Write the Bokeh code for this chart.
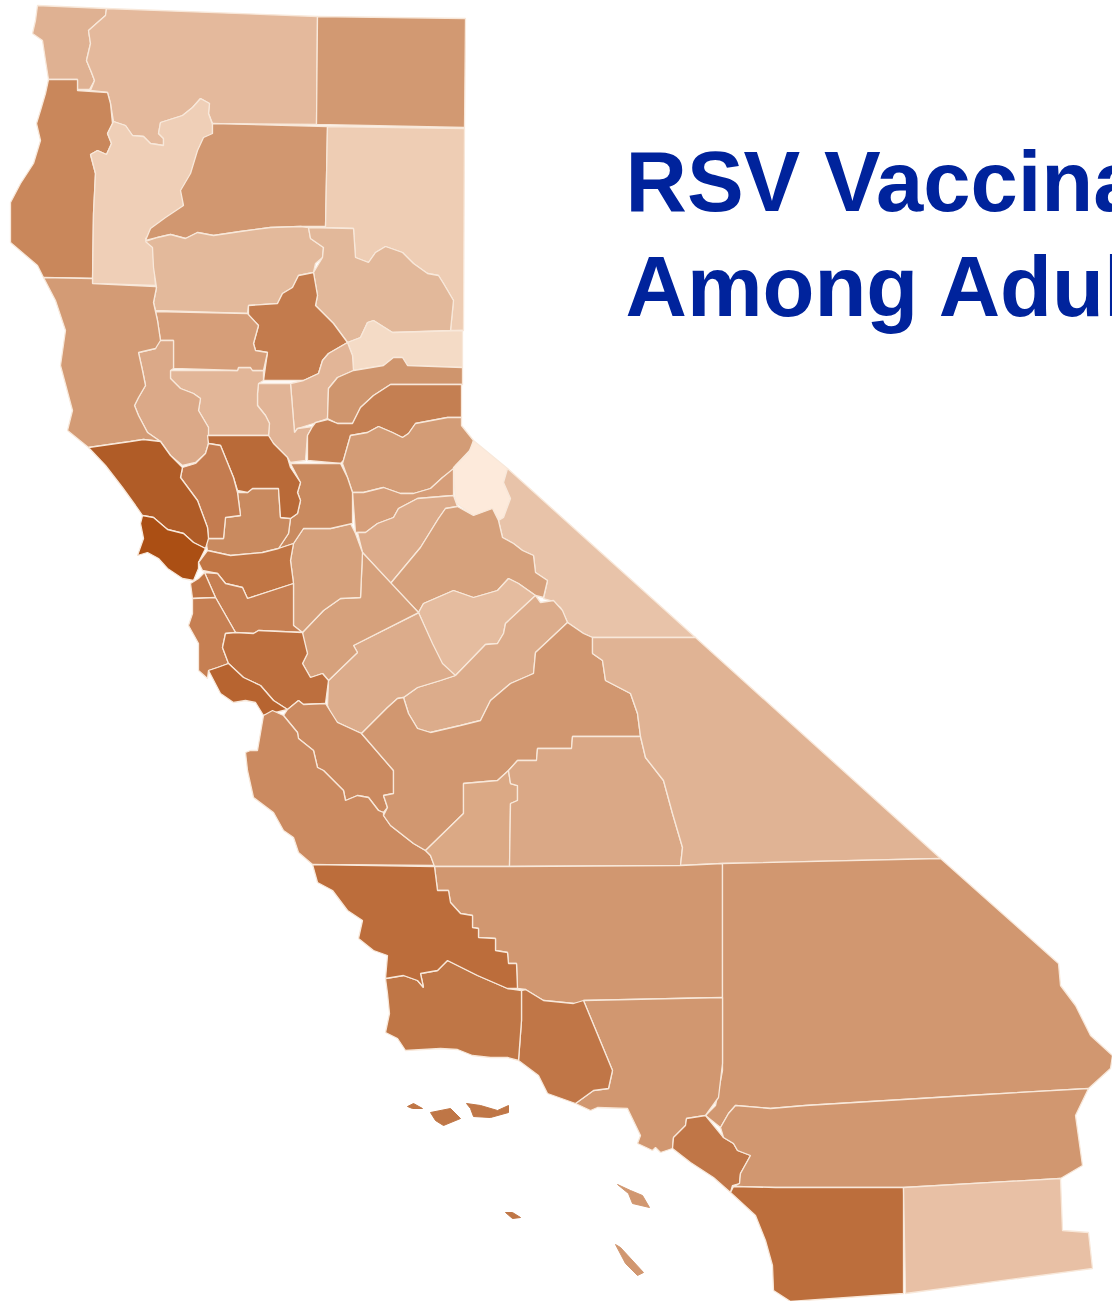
from bokeh.plotting import figure
from bokeh.models import ColumnDataSource, Range1d
from bokeh.core.properties import value
from bokeh.embed import file_html
from bokeh.resources import INLINE

title_lines = ["RSV Vaccination", "Among Adults"]

outlines = {
 "Del Norte": [(37,5),(106,8),(105,15),(97,22),(88,30),(90,43),(86,60),(91,72),(94,80),(89,89),(77,89),(77,79),(48,79),(45,60),(42,40),(32,33),(35,20)],
 "Siskiyou": [(106,8),(317,16),(316,124),(212,123),(208,113),(209,103),(200,98),(192,107),(182,115),(160,122),(158,133),(163,138),(163,145),(150,143),(143,136),(132,135),(125,125),(113,121),(110,103),(107,92),(90,90),(94,80),(91,72),(86,60),(90,43),(88,30),(97,22),(105,15)],
 "Modoc": [(317,16),(465,18),(464,127),(316,124)],
 "Humboldt": [(48,79),(77,79),(77,90),(107,92),(110,103),(112,123),(107,133),(111,143),(106,154),(97,150),(90,154),(95,173),(93,213),(92,278),(43,277),(37,265),(10,242),(10,202),(20,183),(33,163),(40,140),(36,123),(40,110),(45,93)],
 "Trinity": [(113,121),(125,125),(132,135),(143,136),(150,143),(163,145),(163,138),(158,133),(160,122),(182,115),(192,107),(200,98),(209,103),(208,113),(212,124),(212,134),(205,138),(200,150),(195,162),(190,175),(181,190),(183,205),(165,220),(145,238),(152,245),(155,285),(92,283),(93,213),(95,173),(90,154),(97,150),(106,154),(111,143),(107,133)],
 "Shasta": [(212,123),(327,126),(325,226),(300,226),(270,227),(240,231),(213,235),(197,232),(185,238),(170,234),(157,237),(145,240),(150,228),(165,217),(183,205),(180,190),(190,173),(197,150),(203,137),(212,133)],
 "Lassen": [(327,126),(464,128),(463,330),(450,330),(453,300),(443,283),(438,275),(427,273),(413,263),(402,252),(385,246),(375,252),(368,262),(355,257),(353,228),(325,227)],
 "Tehama": [(145,241),(157,237),(170,234),(185,238),(197,232),(213,235),(240,231),(270,227),(300,226),(308,227),(310,238),(323,247),(322,257),(315,263),(313,272),(298,275),(292,287),(282,293),(277,303),(248,305),(247,313),(155,310),(153,302),(156,287),(153,267),(152,247)],
 "Plumas": [(308,227),(353,228),(355,257),(368,262),(375,252),(385,246),(402,252),(413,263),(427,273),(438,275),(443,283),(453,300),(450,330),(392,332),(373,320),(367,322),(360,337),(347,342),(333,323),(315,305),(317,295),(313,272),(322,257),(323,247),(310,238)],
 "Butte": [(313,272),(317,295),(315,305),(333,323),(347,342),(328,353),(322,360),(318,373),(303,380),(263,380),(267,352),(255,350),(253,343),(258,325),(248,315),(248,305),(277,303),(282,293),(292,287),(298,275)],
 "Sierra": [(347,342),(360,337),(367,322),(373,320),(392,332),(462,330),(462,367),(407,365),(402,357),(393,357),(383,365),(353,370),(352,355)],
 "Yuba": [(347,342),(352,355),(353,370),(337,377),(328,388),(327,418),(313,423),(297,428),(294,432),(290,383),(303,380),(318,373),(322,360),(328,353)],
 "Sutter": [(258,383),(290,383),(294,432),(297,428),(312,426),(307,435),(305,460),(290,462),(287,457),(273,443),(268,435),(269,423),(265,415),(257,405),(257,393)],
 "Colusa": [(170,370),(237,370),(238,367),(250,367),(252,370),(263,370),(263,380),(258,383),(257,393),(257,405),(265,415),(269,423),(268,435),(207,435),(208,427),(198,410),(200,398),(193,393),(180,388),(170,378)],
 "Glenn": [(155,311),(247,313),(258,325),(253,343),(255,350),(267,352),(263,370),(252,370),(250,367),(238,367),(237,370),(173,368),(173,340),(160,340),(157,320)],
 "Lake": [(158,340),(173,340),(173,368),(170,370),(170,378),(180,388),(193,393),(200,398),(198,410),(208,427),(208,443),(205,453),(195,462),(182,465),(170,455),(160,441),(147,432),(138,415),(134,405),(138,397),(145,385),(142,370),(138,352),(155,348)],
 "Mendocino": [(43,277),(92,278),(92,283),(155,286),(156,287),(153,302),(155,311),(157,320),(160,340),(155,348),(138,352),(142,370),(145,385),(138,397),(134,405),(138,415),(147,432),(160,441),(143,439),(130,441),(88,447),(67,430),(72,410),(60,365),(65,330),(55,300)],
 "Nevada": [(353,370),(383,365),(393,357),(402,357),(407,365),(462,367),(462,384),(390,384),(373,395),(360,407),(352,423),(337,423),(327,418),(328,388),(337,377)],
 "Placer": [(390,384),(461,384),(461,417),(447,417),(415,423),(408,433),(402,437),(392,432),(378,426),(367,432),(350,435),(343,460),(340,463),(307,460),(307,435),(312,426),(315,422),(327,419),(337,423),(352,423),(360,407),(373,395)],
 "El Dorado": [(350,435),(367,432),(378,426),(392,432),(402,437),(408,433),(415,423),(447,417),(461,417),(461,425),(473,440),(472,447),(455,465),(452,470),(442,477),(430,488),(413,493),(400,493),(383,487),(363,492),(352,492),(347,477),(342,463)],
 "Alpine": [(473,440),(507,468),(503,482),(510,498),(503,517),(500,520),(495,515),(492,508),(473,515),(455,502),(453,467),(468,453)],
 "Mono": [(507,468),(695,637),(592,637),(583,633),(567,622),(560,607),(550,600),(543,598),(547,580),(535,572),(533,555),(522,550),(513,543),(502,537),(498,520),(503,517),(510,498),(503,482)],
 "Amador": [(352,492),(363,492),(383,487),(400,493),(413,493),(430,488),(442,477),(453,468),(453,495),(417,498),(398,508),(393,517),(377,523),(365,532),(355,532)],
 "Calaveras": [(357,532),(365,532),(377,523),(393,517),(398,508),(417,498),(453,495),(457,506),(445,508),(438,518),(420,547),(405,565),(390,583),(362,552)],
 "Tuolumne": [(390,583),(405,565),(420,547),(438,518),(445,508),(457,506),(473,515),(492,508),(498,520),(502,537),(513,543),(522,550),(533,555),(535,572),(547,580),(543,597),(535,595),(518,583),(508,578),(497,590),(473,597),(453,590),(423,603),(418,612)],
 "Mariposa": [(418,612),(423,603),(453,590),(473,597),(497,590),(508,578),(518,583),(535,595),(505,623),(503,633),(497,643),(485,644),(455,675),(440,665),(430,640)],
 "Madera": [(455,675),(485,644),(497,643),(503,633),(505,623),(535,595),(540,602),(553,600),(562,610),(567,622),(535,652),(533,673),(510,683),(490,700),(480,720),(460,725),(430,732),(417,728),(408,713),(403,697),(417,687),(440,680)],
 "Merced": [(328,680),(357,652),(353,645),(417,613),(418,612),(432,643),(442,663),(455,675),(440,680),(417,687),(403,697),(397,698),(387,707),(361,733),(333,720),(327,705)],
 "Stanislaus": [(302,632),(323,610),(340,598),(360,597),(362,552),(418,612),(353,645),(357,652),(328,680),(322,673),(310,677),(302,663),(307,653),(302,640)],
 "San Joaquin": [(293,543),(303,528),(330,528),(350,523),(355,533),(362,552),(360,597),(340,598),(323,610),(302,632),(293,625),(293,583),(290,560)],
 "Sacramento": [(290,463),(340,463),(347,477),(352,492),(352,523),(330,528),(303,528),(293,543),(278,548),(288,533),(290,518),(297,513),(300,500),(297,492),(300,482)],
 "Solano": [(237,492),(247,492),(252,488),(278,488),(280,517),(290,518),(288,533),(278,548),(262,552),(230,555),(207,550),(205,538),(223,538),(225,517),(240,515)],
 "Yolo": [(207,435),(268,435),(273,443),(287,457),(290,467),(300,482),(297,492),(300,500),(297,513),(290,518),(280,517),(278,488),(252,488),(247,492),(237,490),(233,477),(220,445),(208,443)],
 "Napa": [(182,467),(195,463),(205,453),(208,443),(220,445),(233,477),(237,492),(240,515),(225,517),(223,538),(208,538),(207,527),(197,500),(180,477)],
 "Sonoma": [(88,447),(130,441),(143,439),(160,441),(170,455),(182,467),(180,477),(197,500),(207,527),(208,538),(205,548),(193,542),(183,533),(167,529),(153,517),(142,515),(135,505),(122,487),(105,465)],
 "Marin": [(142,515),(153,517),(167,529),(183,533),(193,542),(205,548),(198,562),(198,568),(193,580),(182,578),(167,568),(158,558),(147,552),(137,555),(143,538),(140,523)],
 "Contra Costa": [(207,550),(230,555),(262,552),(278,548),(293,543),(290,560),(293,583),(247,598),(242,587),(225,583),(217,573),(202,570),(198,562)],
 "Alameda": [(204,572),(217,573),(225,583),(242,587),(247,598),(293,583),(293,625),(302,632),(258,630),(253,633),(235,632),(215,597)],
 "San Francisco": [(190,583),(198,578),(204,572),(215,597),(192,598)],
 "San Mateo": [(192,598),(215,597),(235,632),(225,633),(222,647),(228,663),(217,667),(208,670),(207,678),(198,670),(198,643),(188,625),(192,613)],
 "Santa Clara": [(225,633),(235,632),(253,633),(258,630),(302,632),(307,653),(302,663),(310,677),(322,673),(328,680),(325,703),(303,704),(298,700),(287,709),(273,700),(260,685),(243,677),(228,663),(222,647)],
 "Santa Cruz": [(208,670),(217,667),(228,663),(243,677),(260,685),(273,700),(287,709),(263,715),(255,702),(245,700),(233,702),(220,693)],
 "San Benito": [(283,715),(287,709),(298,700),(303,704),(325,703),(337,722),(361,733),(393,770),(393,793),(383,795),(387,807),(383,812),(378,810),(368,797),(357,795),(345,800),(343,790),(323,770),(317,767),(313,750),(298,738),(297,732)],
 "Monterey": [(263,715),(272,710),(283,715),(297,732),(298,738),(313,750),(317,767),(323,770),(343,790),(345,800),(357,795),(368,797),(378,810),(383,812),(383,815),(390,825),(413,843),(425,850),(430,855),(434,865),(312,864),(298,852),(293,837),(283,830),(273,812),(253,797),(247,770),(245,752),(250,750),(257,750)],
 "Fresno": [(567,622),(583,633),(592,637),(592,653),(602,660),(605,680),(630,693),(637,713),(640,736),(572,736),(571,748),(537,748),(536,760),(517,760),(508,770),(497,780),(463,783),(463,813),(425,850),(413,843),(390,825),(383,815),(387,807),(383,795),(393,793),(393,770),(361,733),(387,707),(397,698),(403,697),(408,713),(417,728),(430,732),(460,725),(480,720),(490,700),(510,683),(533,673),(535,652)],
 "Kings": [(425,850),(463,813),(463,783),(497,780),(508,770),(510,783),(517,785),(517,800),(510,803),(509,866),(434,866),(430,855)],
 "Tulare": [(510,803),(517,800),(517,785),(510,783),(508,770),(517,760),(536,760),(537,748),(571,748),(572,736),(640,736),(645,757),(663,780),(672,813),(682,847),(680,865),(509,866)],
 "Inyo": [(592,637),(695,637),(940,858),(722,863),(680,865),(682,847),(672,813),(663,780),(645,757),(640,736),(637,713),(630,693),(605,680),(602,660),(592,653)],
 "Kern": [(434,866),(509,866),(680,865),(722,863),(722,997),(583,1000),(582,1003),(573,1003),(543,1000),(525,989),(517,988),(516,963),(508,963),(507,952),(495,950),(495,938),(478,937),(478,928),(472,927),(472,915),(460,913),(450,902),(448,890),(437,890)],
 "San Bernardino": [(722,863),(940,858),(1058,963),(1060,985),(1075,1005),(1090,1035),(1112,1055),(1110,1068),(1088,1088),(985,1094),(805,1105),(770,1108),(735,1105),(728,1113),(720,1127),(705,1115),(715,1105),(722,1070),(722,997)],
 "Los Angeles": [(583,1000),(722,997),(722,1063),(718,1097),(705,1115),(686,1118),(685,1125),(673,1137),(672,1148),(660,1152),(655,1147),(652,1150),(637,1143),(640,1135),(627,1108),(597,1107),(590,1110),(575,1103),(593,1090),(608,1088),(612,1070)],
 "Ventura": [(521,990),(525,989),(543,1000),(573,1003),(583,1000),(612,1070),(608,1088),(593,1090),(575,1103),(547,1093),(538,1075),(518,1060),(521,1020)],
 "Santa Barbara": [(385,978),(403,975),(417,980),(423,987),(420,973),(437,970),(447,960),(477,975),(507,988),(521,990),(521,1020),(518,1060),(507,1057),(490,1057),(472,1055),(457,1049),(440,1048),(405,1050),(397,1038),(385,1032),(389,1013),(387,993)],
 "San Luis Obispo": [(312,864),(434,866),(437,890),(448,890),(450,902),(460,913),(472,915),(472,927),(478,928),(478,937),(495,938),(495,950),(507,952),(508,963),(516,963),(517,988),(507,988),(477,975),(447,960),(437,970),(420,973),(423,987),(417,980),(403,975),(385,978),(387,955),(373,950),(358,938),(362,920),(347,910),(332,890),(317,882)],
 "Orange": [(686,1118),(705,1115),(723,1137),(733,1143),(737,1150),(750,1155),(740,1173),(739,1183),(732,1185),(730,1192),(713,1177),(690,1162),(672,1148),(673,1137),(685,1125)],
 "Riverside": [(735,1105),(770,1108),(805,1105),(985,1094),(1088,1088),(1075,1115),(1082,1165),(1060,1178),(903,1187),(775,1187),(733,1186),(739,1183),(740,1173),(750,1155),(737,1150),(733,1143),(723,1137),(720,1127),(728,1113)],
 "San Diego": [(733,1186),(775,1187),(903,1187),(903,1293),(790,1301),(773,1290),(772,1265),(765,1240),(755,1215),(730,1192)],
 "Imperial": [(903,1187),(1060,1178),(1062,1230),(1088,1232),(1092,1268),(905,1293)],
}

island_outlines = {
 "San Miguel Is.": [(407,1106),(413,1103),(422,1108),(412,1108)],
 "Santa Rosa Is.": [(430,1112),(450,1108),(460,1118),(443,1125),(435,1120)],
 "Santa Cruz Is.": [(466,1103),(480,1105),(497,1110),(508,1105),(508,1112),(490,1117),(473,1116),(470,1108)],
 "Catalina Is.": [(617,1184),(630,1190),(642,1195),(649,1207),(632,1203),(628,1193)],
 "San Nicolas Is.": [(505,1212),(512,1212),(520,1217),(512,1218)],
 "San Clemente Is.": [(615,1244),(620,1247),(643,1272),(637,1275),(625,1263)],
}

county_colors = {
 "Del Norte": "#dfb192", "Siskiyou": "#e4b99c", "Modoc": "#d29972", "Humboldt": "#c9875b",
 "Trinity": "#efcfb7", "Shasta": "#d19770", "Lassen": "#eecdb4", "Tehama": "#e3b99b",
 "Plumas": "#e2b89a", "Butte": "#c37b4d", "Sierra": "#f4dbc6", "Yuba": "#e2b597",
 "Sutter": "#e1b496", "Colusa": "#e2b698", "Glenn": "#d69e79", "Lake": "#dba988",
 "Mendocino": "#d39b75", "Nevada": "#cf956d", "Placer": "#c47f52", "El Dorado": "#d39c76",
 "Alpine": "#fdeadb", "Mono": "#e8c3a9", "Amador": "#d69e79", "Calaveras": "#dcab8a",
 "Tuolumne": "#d6a17c", "Mariposa": "#e5bc9f", "Madera": "#dcac8b", "Merced": "#dcac8b",
 "Stanislaus": "#d6a17c", "San Joaquin": "#d6a17c", "Sacramento": "#c98a5f", "Solano": "#c98a5f",
 "Yolo": "#b96a38", "Napa": "#c47c50", "Sonoma": "#b05c27", "Marin": "#ab4f14",
 "Contra Costa": "#c17645", "Alameda": "#c67f52", "San Francisco": "#c17645", "San Mateo": "#c67f52",
 "Santa Clara": "#bd6f3e", "Santa Cruz": "#b76430", "San Benito": "#cb8a60", "Monterey": "#cb8a60",
 "Fresno": "#d19770", "Kings": "#dba985", "Tulare": "#daa886", "Inyo": "#e0b394",
 "Kern": "#d19770", "San Bernardino": "#d19770", "Los Angeles": "#d19770", "Ventura": "#c07647",
 "Santa Barbara": "#bf7646", "San Luis Obispo": "#bc6d3b", "Orange": "#c07647", "Riverside": "#d19770",
 "San Diego": "#bc6e3c", "Imperial": "#e8c0a5", "San Miguel Is.": "#bf7646", "Santa Rosa Is.": "#bf7646",
 "Santa Cruz Is.": "#bf7646", "Catalina Is.": "#d19770", "San Nicolas Is.": "#bf7646", "San Clemente Is.": "#d19770",
}


def table(shapes):
    names = list(shapes)
    return ColumnDataSource(dict(
        name=names,
        xs=[[pt[0] for pt in shapes[n]] for n in names],
        ys=[[pt[1] for pt in shapes[n]] for n in names],
        color=[county_colors[n] for n in names],
    ))


p = figure(width=1112, height=1301, output_backend="svg", toolbar_location=None,
           x_range=Range1d(0, 1112), y_range=Range1d(1301, 0), min_border=0)
p.axis.visible = False
p.grid.visible = False
p.outline_line_color = None
p.background_fill_color = "white"
p.patches("xs", "ys", source=table(outlines), fill_color="color", line_color="#f8e8da", line_width=1.3)
p.patches("xs", "ys", source=table(island_outlines), fill_color="color", line_color="color", line_width=1)
p.text([625, 625], [181, 286], text=title_lines, text_font=value("Liberation Sans"),
       text_font_style="bold", text_font_size="85px", text_color="#00239c",
       text_baseline="alphabetic", text_align="left")
open("out.html", "w").write(file_html(p, INLINE))
